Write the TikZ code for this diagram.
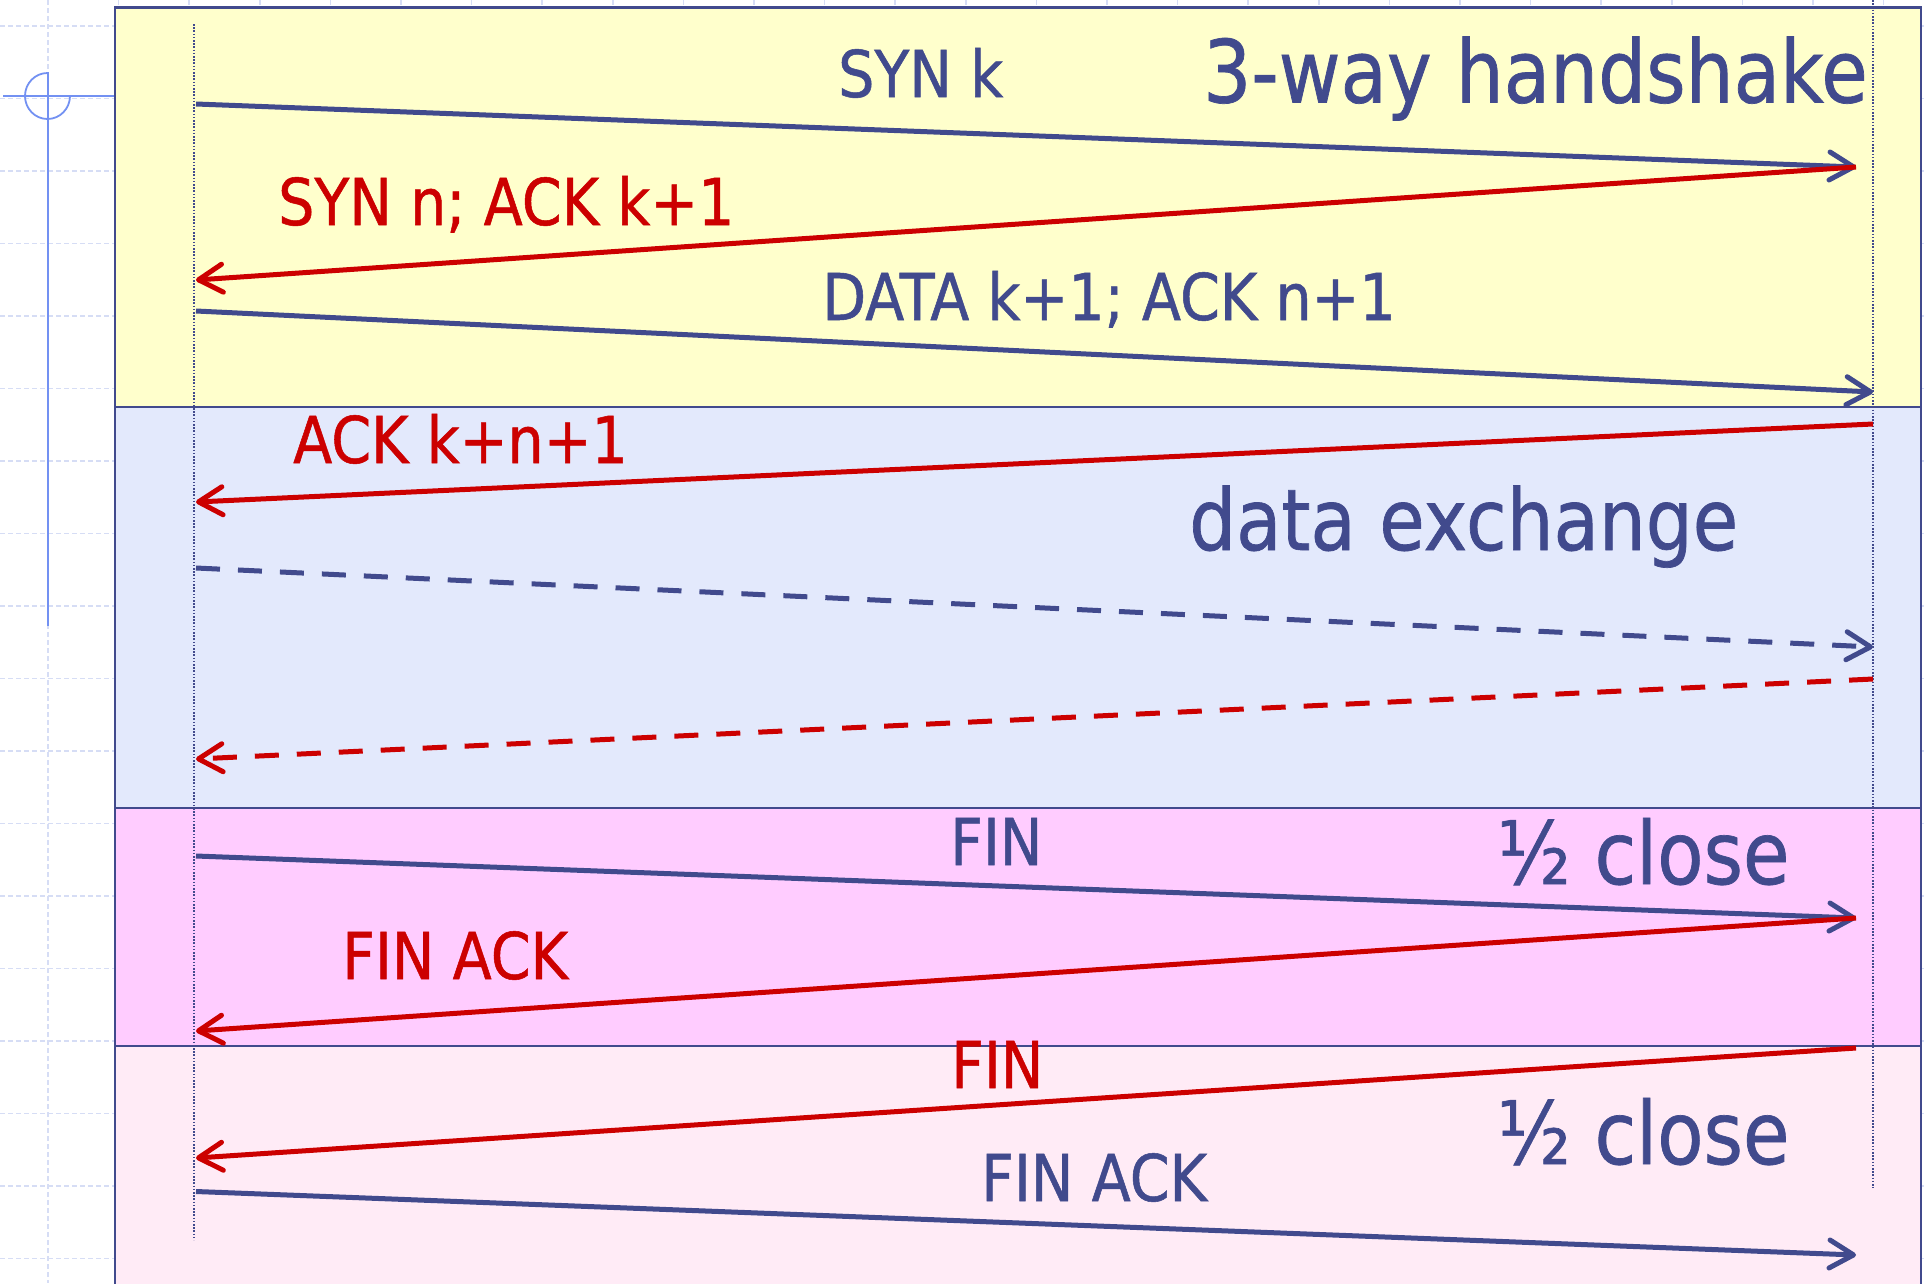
\documentclass[tikz,border=0pt]{standalone}
\usepackage{fontspec}
\setmainfont{DejaVu Sans}[FakeStretch=0.885,FakeBold=0.8]
\newfontfamily\titlefont{DejaVu Sans}[FakeStretch=0.87,FakeBold=0.8]
\usetikzlibrary{arrows.meta}
\definecolor{navy}{HTML}{414A8D}
\definecolor{ackred}{HTML}{CC0000}
\definecolor{hsyellow}{HTML}{FFFFCC}
\definecolor{xblue}{HTML}{E3E9FC}
\definecolor{closepink}{HTML}{FFCCFF}
\definecolor{closepale}{HTML}{FFEBF6}
\definecolor{gridblue}{HTML}{D6DDF5}
\definecolor{markblue}{HTML}{7391F2}

\begin{document}
\begin{tikzpicture}[x=1pt,y=-1pt,
  gridline/.style={draw=gridblue,line width=1.5pt,dash pattern=on 5pt off 3pt},
  panel/.style={draw=navy,line width=2.5pt},
  lifeline/.style={draw=navy,line width=1.6pt,dash pattern=on 1.6pt off 1.6pt},
  msg/.style={line width=5pt,-{Straight Barb[length=24pt,width=28pt,round]}},
  fwd/.style={msg,draw=navy},
  back/.style={msg,draw=ackred},
  fwddash/.style={fwd,dash pattern=on 24pt off 18pt},
  backdash/.style={back,dash pattern=on 24pt off 18pt},
  lbl/.style={inner sep=0pt,anchor=base west,font=\fontsize{64.5}{70}\selectfont},
  bluelbl/.style={lbl,text=navy},
  redlbl/.style={lbl,text=ackred},
  big/.style={inner sep=0pt,anchor=base west,text=navy,font=\titlefont\fontsize{87}{90}\selectfont},
  bigx/.style={big,font=\titlefont\fontsize{85}{90}\selectfont},
  bigclose/.style={big,font=\titlefont\fontsize{87}{90}\selectfont}]

\useasboundingbox (0,0) rectangle (1924,1283);
\clip (0,0) rectangle (1924,1283);

% background grid
\foreach \k in {0,...,17}
  \draw[gridline] (0,26+72.5*\k) -- (1924,26+72.5*\k);
\foreach \k in {0,...,26}
  \draw[gridline] (48+70.6*\k,0) -- (48+70.6*\k,1283);

% crosshair mark at the left margin
\draw[markblue,line width=1.5pt] (3,96) -- (115,96);
\draw[markblue,line width=2.5pt] (48,72) -- (48,626);
\draw[markblue,line width=1.8pt] (47.5,73) arc[start angle=-90,end angle=-360,x radius=22.5,y radius=23];

% phases
\path[panel,fill=hsyellow] (115,7.5) rectangle (1921,407);
\path[panel,fill=xblue] (115,407) rectangle (1921,808);
\path[panel,fill=closepink] (115,808) rectangle (1921,1046);
\path[panel,fill=closepale] (115,1046) rectangle (1921,1300);

% lifelines
\coordinate (clientTop) at (194,24);
\coordinate (clientBot) at (194,1240);
\coordinate (serverTop) at (1873,0);
\coordinate (serverBot) at (1873,1188);
\draw[lifeline] (clientTop) -- (clientBot);
\draw[lifeline] (serverTop) -- (serverBot);

% message end points
\coordinate (c1) at (196,104);    \coordinate (s1) at (1856,167);
\coordinate (c2) at (196,280);
\coordinate (c3) at (196,311);    \coordinate (s3) at (1873,392);
\coordinate (s4) at (1873,424);   \coordinate (c4) at (196,502);
\coordinate (c5) at (196,568);    \coordinate (s5) at (1873,647);
\coordinate (s6) at (1873,679);   \coordinate (c6) at (196,759);
\coordinate (c7) at (196,856);    \coordinate (s7) at (1856,918);
\coordinate (c8) at (196,1031);
\coordinate (s9) at (1856,1048);  \coordinate (c9) at (196,1158);
\coordinate (c10) at (196,1191.5); \coordinate (s10) at (1856,1255);

% messages
\draw[fwd] (c1) -- (s1);
\draw[back] (s1) -- (c2);
\draw[fwd] (c3) -- (s3);
\draw[back] (s4) -- (c4);
\draw[fwddash] (c5) -- (s5);
\draw[backdash] (s6) -- (c6);
\draw[fwd] (c7) -- (s7);
\draw[back] (s7) -- (c8);
\draw[back] (s9) -- (c9);
\draw[fwd] (c10) -- (s10);

% message labels
\node[bluelbl] (synk) at (838,97) {SYN k};
\node[redlbl] (synack) at (278,225) {SYN n; ACK k+1};
\node[bluelbl] (data) at (822,320) {DATA k+1; ACK n+1};
\node[redlbl] (ackkn) at (293,463) {ACK k+n+1};
\node[bluelbl] (fin1) at (950,865) {FIN};
\node[redlbl] (finack1) at (342,979) {FIN ACK};
\node[redlbl] (fin2) at (951,1088) {FIN};
\node[bluelbl] (finack2) at (981,1201) {FIN ACK};

% phase titles
\node[big] (hs) at (1203,102.5) {3-way handshake};
\node[bigx] (dx) at (1189,550) {data exchange};
\node[bigclose] (close1) at (1497,884) {½ close};
\node[bigclose] (close2) at (1497,1164) {½ close};

\end{tikzpicture}
\end{document}
